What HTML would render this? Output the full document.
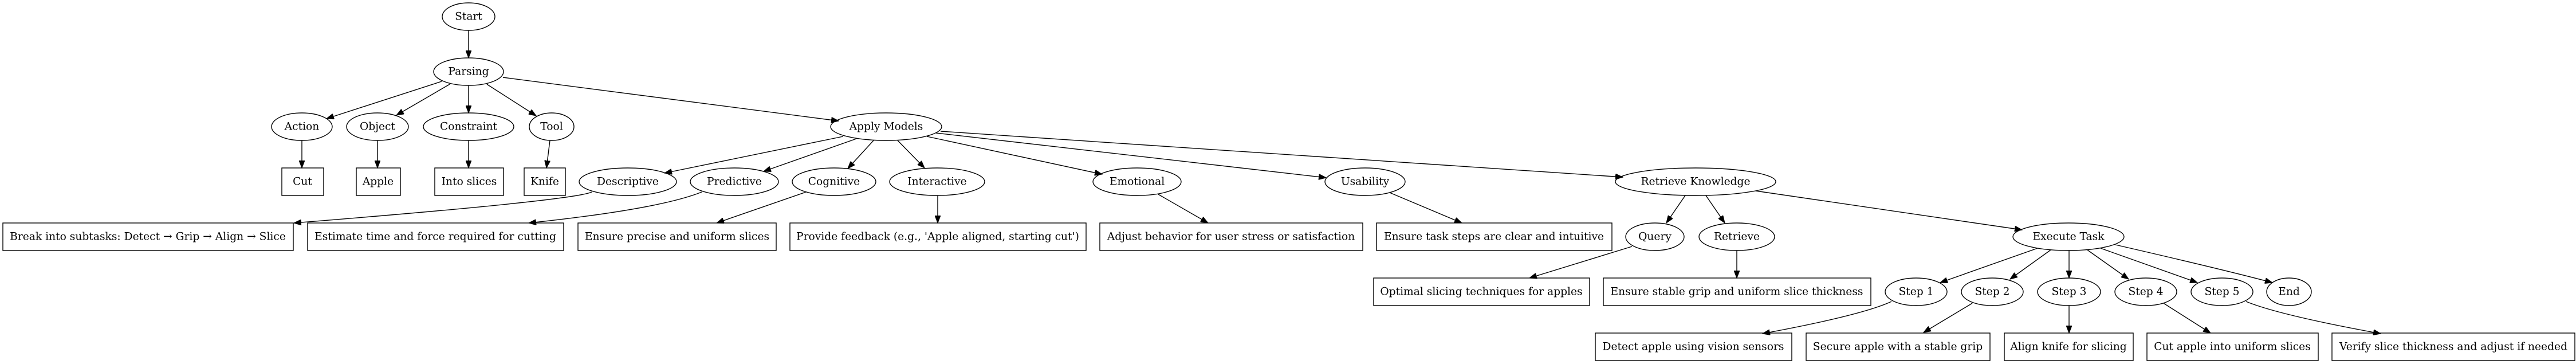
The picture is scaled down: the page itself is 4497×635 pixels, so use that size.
<!DOCTYPE html>
<html><head><meta charset="utf-8"><style>
html,body{margin:0;padding:0;background:#fff;}
svg{display:block;}
text{font-family:"DejaVu Serif","Liberation Serif",serif;font-size:18.67px;fill:#000;text-anchor:middle;dominant-baseline:central;}
ellipse,rect{fill:none;stroke:#000;stroke-width:1.4;}
path{fill:none;stroke:#000;stroke-width:1.4;}
</style></head><body>
<svg width="4497" height="635" viewBox="0 0 4497 635" xmlns="http://www.w3.org/2000/svg">
<defs><marker id="a" markerUnits="userSpaceOnUse" markerWidth="14" markerHeight="10" refX="13" refY="5" orient="auto"><path d="M0,0 L13,5 L0,10 Z" style="fill:#000;stroke:#000;stroke-width:1"/></marker></defs>

<!-- ellipses -->
<ellipse cx="818" cy="29" rx="46" ry="24"/><text x="818" y="29">Start</text>
<ellipse cx="818" cy="125" rx="61" ry="24"/><text x="818" y="125">Parsing</text>
<ellipse cx="527" cy="221" rx="53" ry="24"/><text x="527" y="221">Action</text>
<ellipse cx="659" cy="221" rx="54" ry="24"/><text x="659" y="221">Object</text>
<ellipse cx="818" cy="221" rx="79" ry="24"/><text x="818" y="221">Constraint</text>
<ellipse cx="963" cy="221" rx="39" ry="24"/><text x="963" y="221">Tool</text>
<ellipse cx="1547" cy="221" rx="97" ry="24"/><text x="1547" y="221">Apply Models</text>

<ellipse cx="1096" cy="317" rx="85" ry="24"/><text x="1096" y="317">Descriptive</text>
<ellipse cx="1282" cy="317" rx="77" ry="24"/><text x="1282" y="317">Predictive</text>
<ellipse cx="1456" cy="317" rx="73" ry="24"/><text x="1456" y="317">Cognitive</text>
<ellipse cx="1636" cy="317" rx="83" ry="24"/><text x="1636" y="317">Interactive</text>
<ellipse cx="1985" cy="317" rx="77" ry="24"/><text x="1985" y="317">Emotional</text>
<ellipse cx="2383" cy="317" rx="70" ry="24"/><text x="2383" y="317">Usability</text>
<ellipse cx="2960" cy="317" rx="140" ry="24"/><text x="2960" y="317">Retrieve Knowledge</text>

<ellipse cx="2889" cy="413" rx="51" ry="24"/><text x="2889" y="413">Query</text>
<ellipse cx="3032" cy="413" rx="66" ry="24"/><text x="3032" y="413">Retrieve</text>
<ellipse cx="3611" cy="413" rx="97" ry="24"/><text x="3611" y="413">Execute Task</text>

<ellipse cx="3345" cy="509" rx="54" ry="24"/><text x="3345" y="509">Step 1</text>
<ellipse cx="3478" cy="509" rx="54" ry="24"/><text x="3478" y="509">Step 2</text>
<ellipse cx="3612" cy="509" rx="55" ry="24"/><text x="3612" y="509">Step 3</text>
<ellipse cx="3746" cy="509" rx="54" ry="24"/><text x="3746" y="509">Step 4</text>
<ellipse cx="3879" cy="509" rx="54" ry="24"/><text x="3879" y="509">Step 5</text>
<ellipse cx="3996" cy="509" rx="39" ry="24"/><text x="3996" y="509">End</text>

<!-- boxes -->
<rect x="492" y="293" width="73" height="48"/><text x="528" y="317">Cut</text>
<rect x="622" y="293" width="77" height="48"/><text x="660" y="317">Apple</text>
<rect x="759" y="293" width="120" height="48"/><text x="819" y="317">Into slices</text>
<rect x="915" y="293" width="72" height="48"/><text x="951" y="317">Knife</text>

<rect x="5" y="389" width="507" height="48"/><text x="258" y="413">Break into subtasks: Detect → Grip → Align → Slice</text>
<rect x="537" y="389" width="447" height="48"/><text x="760" y="413">Estimate time and force required for cutting</text>
<rect x="1009" y="389" width="346" height="48"/><text x="1182" y="413">Ensure precise and uniform slices</text>
<rect x="1379" y="389" width="517" height="48"/><text x="1637" y="413">Provide feedback (e.g., 'Apple aligned, starting cut')</text>
<rect x="1920" y="389" width="459" height="48"/><text x="2149" y="413">Adjust behavior for user stress or satisfaction</text>
<rect x="2403" y="389" width="411" height="48"/><text x="2608" y="413">Ensure task steps are clear and intuitive</text>

<rect x="2398" y="485" width="377" height="48"/><text x="2586" y="509">Optimal slicing techniques for apples</text>
<rect x="2799" y="485" width="467" height="48"/><text x="3032" y="509">Ensure stable grip and uniform slice thickness</text>

<rect x="2785" y="581" width="343" height="48"/><text x="2956" y="605">Detect apple using vision sensors</text>
<rect x="3153" y="581" width="321" height="48"/><text x="3313" y="605">Secure apple with a stable grip</text>
<rect x="3499" y="581" width="225" height="48"/><text x="3611" y="605">Align knife for slicing</text>
<rect x="3748" y="581" width="299" height="48"/><text x="3897" y="605">Cut apple into uniform slices</text>
<rect x="4071" y="581" width="424" height="48"/><text x="4283" y="605">Verify slice thickness and adjust if needed</text>

<!-- edges -->
<g marker-end="url(#a)">
<path d="M818,53 L818,101"/>
<path d="M771,142 L570,207"/>
<path d="M785,147 L692,201"/>
<path d="M818,149 L818,197"/>
<path d="M850,147 L936,202"/>
<path d="M878,135 L1464,211"/>
<path d="M527,245 L527,293"/>
<path d="M659,245 L659,293"/>
<path d="M818,245 L818,293"/>
<path d="M960,245 L954,293"/>
<path d="M1472,238 L1160,302"/>
<path d="M1495,242 L1333,299"/>
<path d="M1525,245 L1480,294"/>
<path d="M1567,245 L1614,293"/>
<path d="M1618,238 L1924,304"/>
<path d="M1634,232 L2315,310"/>
<path d="M1642,229 L2833,309"/>
<path d="M1033,335 Q1000,350 513,389"/>
<path d="M1225,335 Q1150,365 923,389"/>
<path d="M1407,335 L1251,389"/>
<path d="M1637,341 L1637,389"/>
<path d="M2022,339 L2109,389"/>
<path d="M2426,336 L2552,389"/>
<path d="M2942,341 L2909,389"/>
<path d="M2978,341 L3011,389"/>
<path d="M3065,333 L3530,401"/>
<path d="M2849,430 L2670,485"/>
<path d="M3032,437 L3032,485"/>
<path d="M3557,433 L3387,493"/>
<path d="M3580,436 L3509,487"/>
<path d="M3612,437 L3612,485"/>
<path d="M3644,436 L3716,487"/>
<path d="M3667,433 L3836,493"/>
<path d="M3693,427 Q3880,470 3967,493"/>
<path d="M3302,526 Q3250,550 3077,582"/>
<path d="M3443,529 L3358,580"/>
<path d="M3612,533 L3612,581"/>
<path d="M3777,529 L3859,581"/>
<path d="M3921,526 Q3980,550 4156,582"/>
</g>
</svg>
</body></html>
